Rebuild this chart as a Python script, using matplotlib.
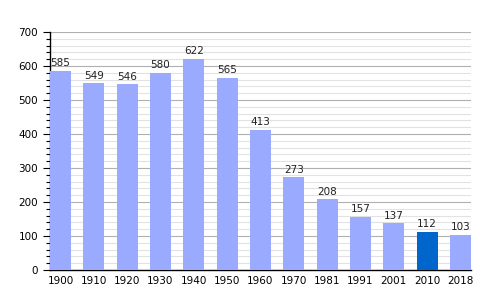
import matplotlib
matplotlib.use("Agg")
import matplotlib.pyplot as plt
from matplotlib.ticker import MultipleLocator

years = ["1900", "1910", "1920", "1930", "1940", "1950", "1960", "1970", "1981", "1991", "2001", "2010", "2018"]
population = [585, 549, 546, 580, 622, 565, 413, 273, 208, 157, 137, 112, 103]
highlight = "2010"

fig = plt.figure(figsize=(5, 3), dpi=100)
ax = fig.add_axes([0.1, 0.1, 0.842, 0.793])

width = 0.63
colors = ["#0066cc" if y == highlight else "#99aaff" for y in years]
x = range(len(years))
bars = ax.bar(x, population, width=width, color=colors, zorder=3)
for xi, v in zip(x, population):
    ax.text(xi, v + 8, str(v), ha="center", va="bottom", fontsize=7.5, color="#222222", zorder=4)

ax.set_xlim(-width / 2, len(years) - 1 + width / 2)
ax.set_ylim(0, 700)
ax.set_xticks(list(x))
ax.set_xticklabels(years)
ax.yaxis.set_major_locator(MultipleLocator(100))
ax.yaxis.set_minor_locator(MultipleLocator(20))
ax.grid(True, which="major", axis="y", color="#b0b0b0", lw=0.8, zorder=1)
ax.grid(True, which="minor", axis="y", color="#e2e2e2", lw=0.8, zorder=0)
ax.tick_params(axis="y", which="major", length=5, width=0.8, labelsize=7.5)
ax.tick_params(axis="y", which="minor", length=3, width=0.8)
ax.tick_params(axis="x", length=0, labelsize=7.5, pad=4)
for side in ("top", "right"):
    ax.spines[side].set_visible(False)
ax.spines["left"].set_linewidth(1.0)
ax.spines["bottom"].set_linewidth(1.0)

fig.savefig("out.png", dpi=100)
